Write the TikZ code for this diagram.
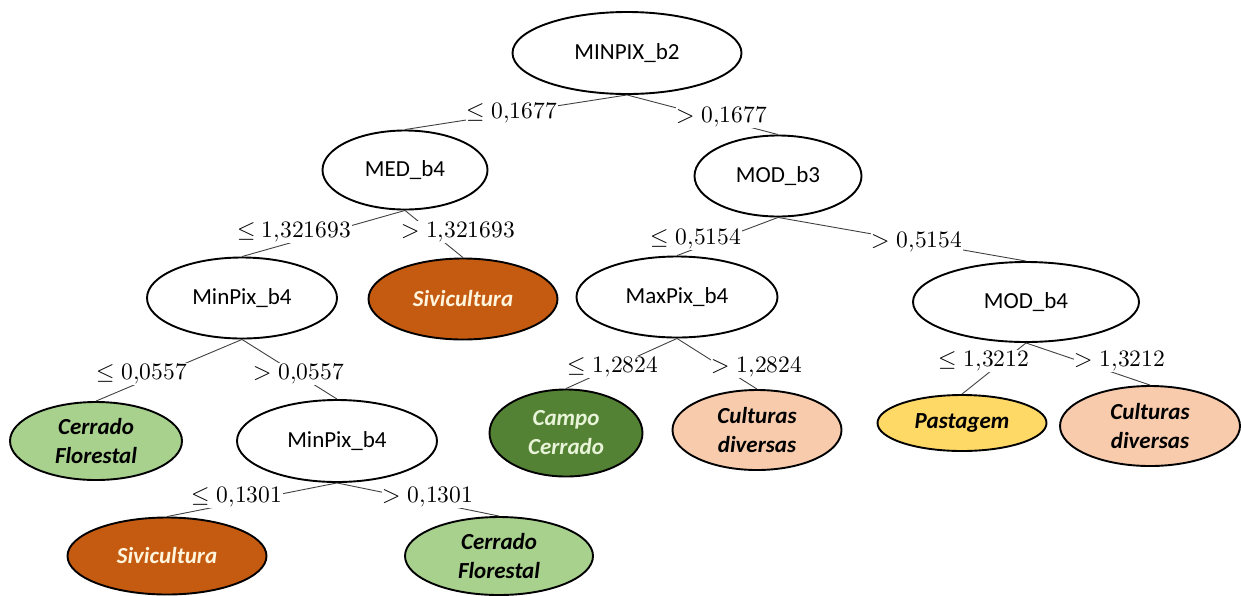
\documentclass[tikz,border=0pt]{standalone}
\usepackage{fontspec}
\usepackage{unicode-math}
\setmainfont{Carlito}
\setmathfont{Latin Modern Math}
\usetikzlibrary{shapes.geometric}
\definecolor{sivi}{HTML}{C55A11}
\definecolor{sivitext}{HTML}{FFF5DC}
\definecolor{cerrado}{HTML}{A9D18E}
\definecolor{campo}{HTML}{548235}
\definecolor{campotext}{HTML}{E8F4D8}
\definecolor{cultura}{HTML}{F8CBAD}
\definecolor{pasto}{HTML}{FFD966}
\begin{document}
\begin{tikzpicture}[x=1pt,y=-1pt,
  box/.style={ellipse,draw=black,line width=1.9pt,inner sep=0pt,align=center,
    fill=white,font=\fontsize{23}{29}\selectfont},
  leaf/.style={box,font=\fontsize{23}{29}\selectfont\bfseries\itshape},
  cond/.style={fill=white,inner sep=1pt,font=\fontsize{23.5}{27}\selectfont},
  link/.style={draw=black!75,line width=0.9pt}]
\useasboundingbox (0,0) rectangle (1241,595);
% internal nodes
\node[box,minimum width=229pt,minimum height=82pt] (root) at (627,53) {MINPIX\_b2};
\node[box,minimum width=165pt,minimum height=79pt] (med) at (405,170) {MED\_b4};
\node[box,minimum width=167pt,minimum height=81pt] (mod3) at (778,176) {MOD\_b3};
\node[box,minimum width=190pt,minimum height=81pt] (mp1) at (242,298) {MinPix\_b4};
\node[box,minimum width=201pt,minimum height=81pt] (maxp) at (677,297) {MaxPix\_b4};
\node[box,minimum width=226pt,minimum height=80pt] (mod4) at (1026,302) {MOD\_b4};
\node[box,minimum width=200pt,minimum height=82pt] (mp2) at (337,441) {MinPix\_b4};
% leaves
\node[leaf,fill=sivi,text=sivitext,minimum width=189pt,minimum height=81pt] (siv1) at (463,299) {Sivicultura};
\node[leaf,fill=cerrado,minimum width=172pt,minimum height=78pt] (cf1) at (96,441) {Cerrado\\Florestal};
\node[leaf,fill=campo,text=campotext,minimum width=153pt,minimum height=87pt] (campo) at (566,433) {Campo\\Cerrado};
\node[leaf,fill=cultura,minimum width=169pt,minimum height=80pt] (cult1) at (757,430) {Culturas\\diversas};
\node[leaf,fill=pasto,minimum width=169pt,minimum height=56pt] (past) at (962,423) {Pastagem};
\node[leaf,fill=cultura,minimum width=180pt,minimum height=80pt] (cult2) at (1150,426) {Culturas\\diversas};
\node[leaf,fill=sivi,text=sivitext,minimum width=199pt,minimum height=77pt] (siv2) at (167,556) {Sivicultura};
\node[leaf,fill=cerrado,minimum width=188pt,minimum height=78pt] (cf2) at (499,556) {Cerrado\\Florestal};
% connectors
\draw[link] (root.south) -- (med.north);
\draw[link] (root.south) -- (mod3.north);
\draw[link] (med.south) -- (mp1.north);
\draw[link] (med.south) -- (siv1.north);
\draw[link] (mod3.south) -- (maxp.north);
\draw[link] (mod3.south) -- (mod4.north);
\draw[link] (mp1.south) -- (cf1.north);
\draw[link] (mp1.south) -- (mp2.north);
\draw[link] (maxp.south) -- (campo.north);
\draw[link] (maxp.south) -- (cult1.north);
\draw[link] (mod4.south) -- (past.north);
\draw[link] (mod4.south) -- (cult2.north);
\draw[link] (mp2.south) -- (siv2.north);
\draw[link] (mp2.south) -- (cf2.north);
% conditions
\node[cond] (c1) at (512,113) {$\leq 0{,}1677$};
\node[cond] (c2) at (722,117) {$> 0{,}1677$};
\node[cond] (c3) at (294,232) {$\leq 1{,}321693$};
\node[cond] (c4) at (458,232) {$> 1{,}321693$};
\node[cond] (c5) at (696,239) {$\leq 0{,}5154$};
\node[cond] (c6) at (917,242) {$> 0{,}5154$};
\node[cond] (c7) at (142,374) {$\leq 0{,}0557$};
\node[cond] (c8) at (299,374) {$> 0{,}0557$};
\node[cond] (c9) at (613,367) {$\leq 1{,}2824$};
\node[cond] (c10) at (757,367) {$> 1{,}2824$};
\node[cond] (c11) at (984,361) {$\leq 1{,}3212$};
\node[cond] (c12) at (1120,361) {$> 1{,}3212$};
\node[cond] (c13) at (237,497) {$\leq 0{,}1301$};
\node[cond] (c14) at (428,497) {$> 0{,}1301$};
\end{tikzpicture}
\end{document}
